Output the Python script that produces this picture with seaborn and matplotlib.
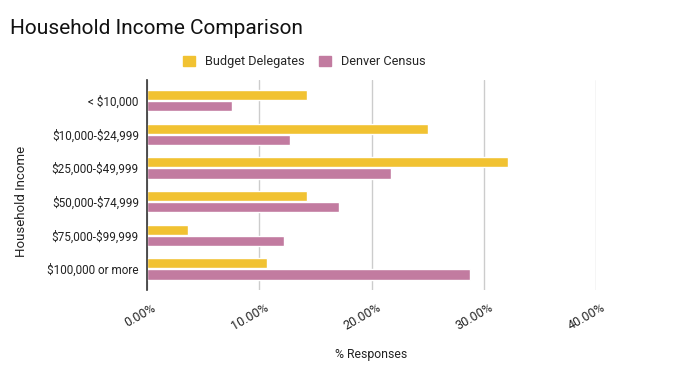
import matplotlib
matplotlib.use('Agg')
import matplotlib.pyplot as plt
import matplotlib.transforms as mtransforms
from matplotlib.ticker import FuncFormatter
import pandas as pd
import seaborn as sns

sns.set_style("white")
plt.rcParams['font.family'] = ['Roboto', 'DejaVu Sans']
plt.rcParams['text.parse_math'] = False

categories = ['< $10,000', '$10,000-$24,999', '$25,000-$49,999',
              '$50,000-$74,999', '$75,000-$99,999', '$100,000 or more']
budget_delegates = [14.2, 25.0, 32.2, 14.2, 3.6, 10.7]
denver_census = [7.6, 12.7, 21.7, 17.1, 12.2, 28.8]
series = ['Budget Delegates', 'Denver Census']
colors = ['#F1C232', '#C27BA0']

df = pd.DataFrame({
    'Household Income': categories * 2,
    'Responses': budget_delegates + denver_census,
    'Series': [series[0]] * len(categories) + [series[1]] * len(categories),
})

fig = plt.figure(figsize=(6.75, 3.79), dpi=100)
ax = fig.add_axes([0.218, 0.235, 0.665, 0.555])

sns.barplot(data=df, y='Household Income', x='Responses', hue='Series',
            palette=colors, orient='h', width=0.66, gap=0.08, saturation=1,
            ax=ax, legend=False)

ax.set_xlim(0, 40)
ax.set_ylim(5.625, -0.625)
ax.set_xticks([0, 10, 20, 30, 40])
ax.xaxis.set_major_formatter(FuncFormatter(lambda v, p: f'{v:.2f}%'))
ax.grid(axis='x', color='#cccccc', linewidth=1)
ax.set_axisbelow(True)
for s in ['top', 'right', 'bottom']:
    ax.spines[s].set_visible(False)
ax.spines['left'].set_color('#333333')
ax.spines['left'].set_linewidth(1.2)
ax.tick_params(axis='x', length=4, color='#999999', pad=8, labelsize=9,
               labelcolor='#222222')
ax.tick_params(axis='y', length=0, pad=6, labelsize=8.5, labelcolor='#222222')
shift = mtransforms.ScaledTranslation(8 / 100, 0, fig.dpi_scale_trans)
for lbl in ax.get_xticklabels():
    lbl.set_rotation(30)
    lbl.set_ha('right')
    lbl.set_va('center')
    lbl.set_rotation_mode('anchor')
    lbl.set_transform(lbl.get_transform() + shift)

ax.set_xlabel('% Responses', fontsize=8.8, color='#222222')
ax.set_ylabel('Household Income', fontsize=9.5, color='#222222')
ax.xaxis.set_label_coords(0.5, -0.275)
ax.yaxis.set_label_coords(-0.265, 0.42)

fig.text(0.015, 0.925, 'Household Income Comparison', fontsize=15,
         color='#111111', va='center')

handles = [plt.Rectangle((0, 0), 1, 1, color=c) for c in colors]
fig.legend(handles, series, loc='center', bbox_to_anchor=(0.451, 0.837),
           ncol=2, frameon=False, fontsize=9.2, handlelength=0.9,
           handleheight=0.9, columnspacing=1.15, handletextpad=0.8)

fig.savefig('out.png', dpi=100)
